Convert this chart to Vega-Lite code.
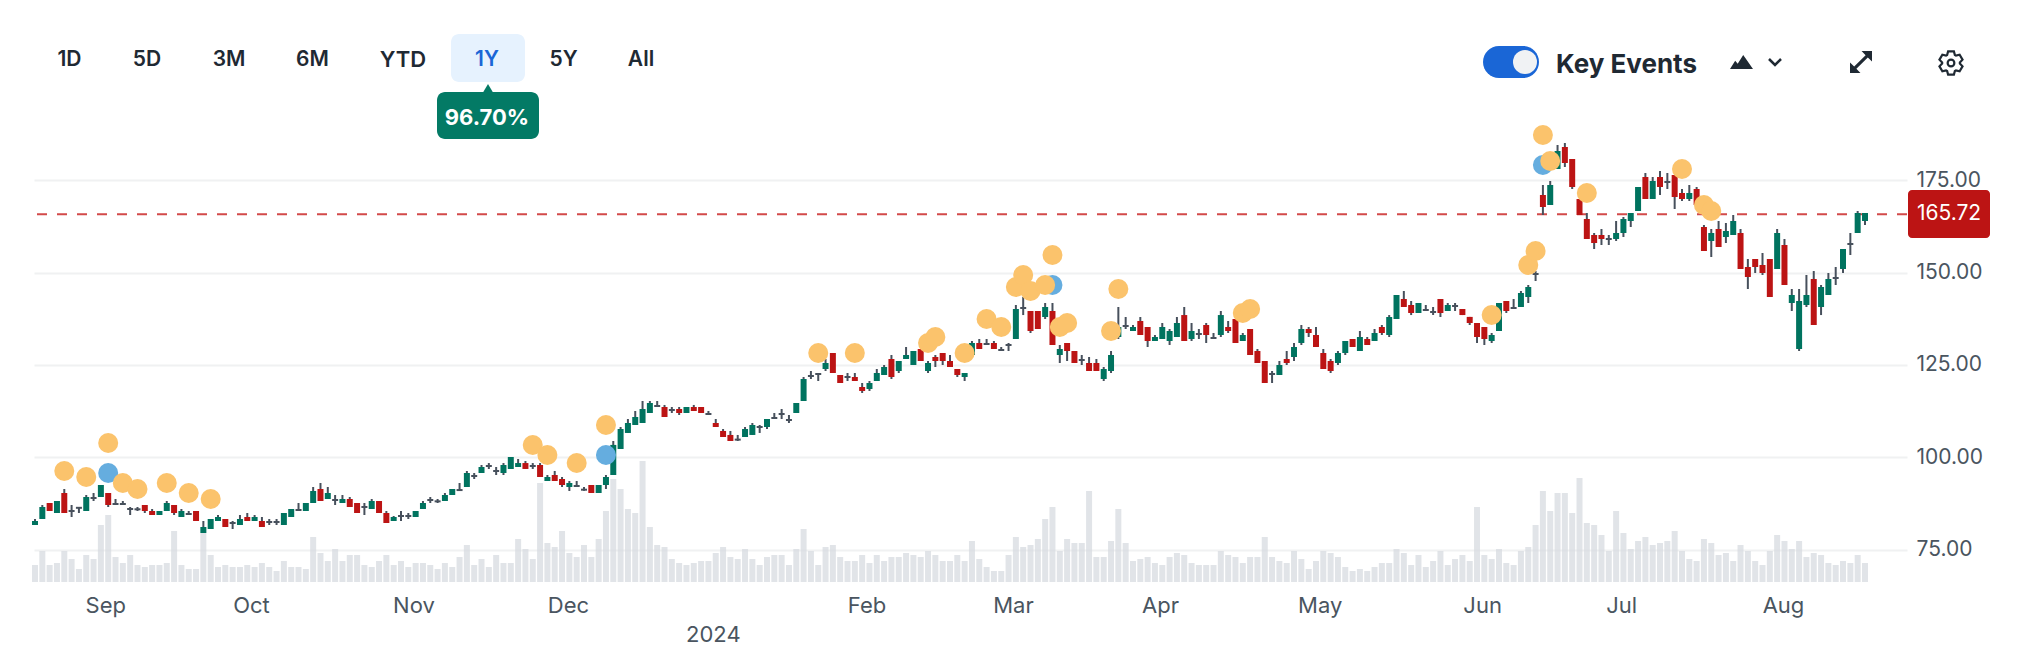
{"$schema":"https://vega.github.io/schema/vega-lite/v6.json","width":1873,"height":582,"padding":{"left":34,"top":0,"right":115,"bottom":74},"autosize":{"type":"none"},"background":"white","config":{"view":{"stroke":null},"text":{"font":"Inter"}},
"datasets":{
"candles":[
{"i":0,"o":81.76,"h":83.38,"l":81.76,"c":82.84,"v":8.5,"k":"up"},
{"i":1,"o":83.38,"h":87.16,"l":83.38,"c":86.62,"v":15.5,"k":"up"},
{"i":2,"o":87.7,"h":87.7,"l":85.54,"c":85.54,"v":8.5,"k":"down"},
{"i":3,"o":85,"h":88.24,"l":85,"c":88.24,"v":9.5,"k":"up"},
{"i":4,"o":90.4,"h":91.49,"l":85,"c":85,"v":15.5,"k":"down"},
{"i":5,"o":85.54,"h":87.16,"l":83.92,"c":85.54,"v":11.5,"k":"flat"},
{"i":6,"o":86.4,"h":86.62,"l":85,"c":86.4,"v":6.5,"k":"flat"},
{"i":7,"o":85.54,"h":89.86,"l":85.54,"c":89.32,"v":13.5,"k":"up"},
{"i":8,"o":89.05,"h":90.4,"l":88.24,"c":89.05,"v":11.5,"k":"flat"},
{"i":9,"o":89.32,"h":92.57,"l":89.32,"c":92.57,"v":28.5,"k":"up"},
{"i":10,"o":90.4,"h":90.4,"l":86.62,"c":87.16,"v":33.5,"k":"down"},
{"i":11,"o":87.43,"h":88.78,"l":87.16,"c":87.43,"v":12.5,"k":"flat"},
{"i":12,"o":87.43,"h":88.24,"l":87.16,"c":87.43,"v":9.5,"k":"flat"},
{"i":13,"o":86.08,"h":86.62,"l":84.46,"c":86.08,"v":13.5,"k":"flat"},
{"i":14,"o":86,"h":86.62,"l":85.54,"c":86,"v":8.5,"k":"flat"},
{"i":15,"o":87.16,"h":87.16,"l":85,"c":85.54,"v":7.5,"k":"down"},
{"i":16,"o":85.54,"h":86.08,"l":84.46,"c":84.46,"v":8.5,"k":"down"},
{"i":17,"o":84.46,"h":85.54,"l":84.46,"c":85.54,"v":8.5,"k":"up"},
{"i":18,"o":85.54,"h":88.24,"l":85.54,"c":87.7,"v":9.5,"k":"up"},
{"i":19,"o":87.16,"h":87.16,"l":84.46,"c":85,"v":25.5,"k":"down"},
{"i":20,"o":83.92,"h":86.08,"l":83.92,"c":85.54,"v":8.5,"k":"up"},
{"i":21,"o":84.73,"h":85.54,"l":84.46,"c":84.73,"v":6.5,"k":"flat"},
{"i":22,"o":85.54,"h":85.54,"l":82.84,"c":82.84,"v":6.5,"k":"down"},
{"i":23,"o":79.59,"h":82.84,"l":79.59,"c":81.22,"v":24.5,"k":"up"},
{"i":24,"o":80.67,"h":83.38,"l":80.67,"c":83.38,"v":13.5,"k":"up"},
{"i":25,"o":82.84,"h":84.46,"l":82.84,"c":83.92,"v":7.5,"k":"up"},
{"i":26,"o":83.38,"h":83.38,"l":81.22,"c":81.22,"v":8.5,"k":"down"},
{"i":27,"o":82.3,"h":82.84,"l":80.67,"c":82.3,"v":7.5,"k":"flat"},
{"i":28,"o":81.76,"h":84.46,"l":81.76,"c":83.38,"v":7.5,"k":"up"},
{"i":29,"o":83.92,"h":85,"l":82.84,"c":82.84,"v":8.5,"k":"down"},
{"i":30,"o":82.84,"h":84.46,"l":82.84,"c":83.92,"v":7.5,"k":"up"},
{"i":31,"o":82.84,"h":83.92,"l":81.22,"c":81.22,"v":9.5,"k":"down"},
{"i":32,"o":82.57,"h":83.38,"l":81.76,"c":82.57,"v":7.5,"k":"flat"},
{"i":33,"o":82.57,"h":83.38,"l":81.76,"c":82.57,"v":5.5,"k":"flat"},
{"i":34,"o":81.76,"h":85,"l":81.76,"c":85,"v":10.5,"k":"up"},
{"i":35,"o":83.92,"h":86.08,"l":83.92,"c":86.08,"v":7.5,"k":"up"},
{"i":36,"o":85.81,"h":87.7,"l":85.54,"c":85.81,"v":7.5,"k":"flat"},
{"i":37,"o":85.54,"h":87.7,"l":85.54,"c":87.7,"v":6.5,"k":"up"},
{"i":38,"o":87.7,"h":92.03,"l":87.7,"c":90.94,"v":22.5,"k":"up"},
{"i":39,"o":91.49,"h":93.11,"l":88.24,"c":88.24,"v":14.5,"k":"down"},
{"i":40,"o":88.78,"h":92.03,"l":88.78,"c":90.4,"v":10.5,"k":"up"},
{"i":41,"o":88.51,"h":89.86,"l":87.16,"c":88.51,"v":16.5,"k":"flat"},
{"i":42,"o":87.7,"h":89.86,"l":87.7,"c":88.78,"v":10.5,"k":"up"},
{"i":43,"o":88.78,"h":89.32,"l":86.62,"c":86.62,"v":13.5,"k":"down"},
{"i":44,"o":87.7,"h":87.7,"l":85,"c":85,"v":13.5,"k":"down"},
{"i":45,"o":86.62,"h":87.7,"l":84.46,"c":86.62,"v":8.5,"k":"flat"},
{"i":46,"o":86.08,"h":88.78,"l":86.08,"c":88.24,"v":7.5,"k":"up"},
{"i":47,"o":88.24,"h":88.24,"l":85,"c":85,"v":10.5,"k":"down"},
{"i":48,"o":85,"h":85.54,"l":82.3,"c":82.3,"v":13.5,"k":"down"},
{"i":49,"o":82.84,"h":84.19,"l":82.84,"c":83.92,"v":8.5,"k":"up"},
{"i":50,"o":84.19,"h":85.54,"l":82.84,"c":84.19,"v":10.5,"k":"flat"},
{"i":51,"o":84.19,"h":85,"l":83.38,"c":84.19,"v":7.5,"k":"flat"},
{"i":52,"o":83.92,"h":85.54,"l":83.92,"c":85.54,"v":9.5,"k":"up"},
{"i":53,"o":86.08,"h":88.24,"l":86.08,"c":87.7,"v":9.5,"k":"up"},
{"i":54,"o":88.51,"h":89.32,"l":87.7,"c":88.51,"v":8.5,"k":"flat"},
{"i":55,"o":88.15,"h":88.78,"l":87.7,"c":88.15,"v":6.5,"k":"flat"},
{"i":56,"o":88.24,"h":90.4,"l":88.24,"c":89.86,"v":9.5,"k":"up"},
{"i":57,"o":89.86,"h":91.49,"l":89.86,"c":91.49,"v":7.5,"k":"up"},
{"i":58,"o":91.2,"h":93.11,"l":91,"c":91.2,"v":12.5,"k":"flat"},
{"i":59,"o":92.03,"h":96.35,"l":92.03,"c":95.81,"v":18.5,"k":"up"},
{"i":60,"o":95,"h":95.81,"l":94.19,"c":95,"v":8.5,"k":"flat"},
{"i":61,"o":95.81,"h":97.97,"l":95.81,"c":97.43,"v":11.5,"k":"up"},
{"i":62,"o":97.7,"h":98.5,"l":96.89,"c":97.7,"v":7.5,"k":"flat"},
{"i":63,"o":96.35,"h":97.43,"l":95.27,"c":96.35,"v":13.5,"k":"flat"},
{"i":64,"o":95.81,"h":98.5,"l":95.27,"c":97.97,"v":9.5,"k":"up"},
{"i":65,"o":96.89,"h":100.13,"l":96.89,"c":100.13,"v":9.5,"k":"up"},
{"i":66,"o":97.43,"h":99.6,"l":97.43,"c":98.5,"v":21.5,"k":"up"},
{"i":67,"o":98.5,"h":99.06,"l":96.9,"c":96.9,"v":16.5,"k":"down"},
{"i":68,"o":97.7,"h":98.5,"l":96.9,"c":97.7,"v":11.5,"k":"flat"},
{"i":69,"o":97.97,"h":98.5,"l":94.73,"c":94.73,"v":49.5,"k":"down"},
{"i":70,"o":93.65,"h":95.27,"l":93.65,"c":94.73,"v":19.5,"k":"up"},
{"i":71,"o":95.27,"h":96.36,"l":93.65,"c":93.65,"v":17.5,"k":"down"},
{"i":72,"o":94.19,"h":94.73,"l":92.03,"c":92.57,"v":25.5,"k":"down"},
{"i":73,"o":92.03,"h":93.65,"l":90.95,"c":93.11,"v":14.5,"k":"up"},
{"i":74,"o":92.3,"h":93.65,"l":92.03,"c":92.3,"v":12.5,"k":"flat"},
{"i":75,"o":91.3,"h":92.03,"l":91,"c":91.3,"v":18.5,"k":"flat"},
{"i":76,"o":92.57,"h":92.57,"l":90.41,"c":90.41,"v":12.5,"k":"down"},
{"i":77,"o":90.41,"h":92.57,"l":90.41,"c":92.57,"v":21.5,"k":"up"},
{"i":78,"o":92.57,"h":95.27,"l":91.49,"c":94.73,"v":35.5,"k":"up"},
{"i":79,"o":95.27,"h":104.46,"l":95.27,"c":103.4,"v":51.5,"k":"up"},
{"i":80,"o":102.3,"h":108.25,"l":102.3,"c":107.7,"v":46.5,"k":"up"},
{"i":81,"o":106.63,"h":110.4,"l":106.63,"c":109.33,"v":36.5,"k":"up"},
{"i":82,"o":108.79,"h":112.57,"l":108.79,"c":110.95,"v":34.5,"k":"up"},
{"i":83,"o":109.33,"h":115.27,"l":109.33,"c":113.11,"v":60.5,"k":"up"},
{"i":84,"o":112.03,"h":115.27,"l":112.03,"c":114.73,"v":27.5,"k":"up"},
{"i":85,"o":113.92,"h":115.27,"l":113.65,"c":113.92,"v":18.5,"k":"flat"},
{"i":86,"o":113.65,"h":114.2,"l":110.95,"c":110.95,"v":17.5,"k":"down"},
{"i":87,"o":112.84,"h":113.65,"l":112.03,"c":112.84,"v":11.5,"k":"flat"},
{"i":88,"o":113.11,"h":113.65,"l":111.49,"c":112.03,"v":9.5,"k":"down"},
{"i":89,"o":112.03,"h":113.65,"l":112.03,"c":113.65,"v":8.5,"k":"up"},
{"i":90,"o":113.65,"h":114.2,"l":112.57,"c":112.57,"v":9.5,"k":"down"},
{"i":91,"o":113.65,"h":113.65,"l":112.03,"c":112.03,"v":10.5,"k":"down"},
{"i":92,"o":111.76,"h":112.57,"l":111.49,"c":111.76,"v":10.5,"k":"flat"},
{"i":93,"o":109.33,"h":110.41,"l":108.25,"c":108.25,"v":14.5,"k":"down"},
{"i":94,"o":107.17,"h":107.7,"l":105.54,"c":105.54,"v":17.5,"k":"down"},
{"i":95,"o":106.09,"h":107.17,"l":104.46,"c":104.46,"v":12.5,"k":"down"},
{"i":96,"o":104.83,"h":106.09,"l":104.46,"c":104.83,"v":11.5,"k":"flat"},
{"i":97,"o":105.54,"h":108.25,"l":105.54,"c":107.7,"v":16.5,"k":"up"},
{"i":98,"o":106.09,"h":109.33,"l":106.09,"c":108.79,"v":11.5,"k":"up"},
{"i":99,"o":108.25,"h":108.79,"l":106.63,"c":108.25,"v":8.5,"k":"flat"},
{"i":100,"o":108.25,"h":110.41,"l":107.7,"c":110.41,"v":12.5,"k":"up"},
{"i":101,"o":110.68,"h":112.03,"l":110.41,"c":110.68,"v":13.5,"k":"flat"},
{"i":102,"o":111.76,"h":113.11,"l":110.41,"c":111.76,"v":13.5,"k":"flat"},
{"i":103,"o":110.14,"h":111.49,"l":109.33,"c":110.14,"v":8.5,"k":"flat"},
{"i":104,"o":112.03,"h":114.73,"l":112.03,"c":114.73,"v":16.5,"k":"up"},
{"i":105,"o":115.27,"h":121.76,"l":115.27,"c":121.22,"v":26.5,"k":"up"},
{"i":106,"o":122.03,"h":123.38,"l":121.22,"c":122.03,"v":15.5,"k":"flat"},
{"i":107,"o":122.57,"h":122.84,"l":120.68,"c":122.57,"v":8.5,"k":"flat"},
{"i":108,"o":123.92,"h":126.62,"l":123.38,"c":125.54,"v":17.5,"k":"up"},
{"i":109,"o":128.25,"h":128.25,"l":122.84,"c":122.84,"v":18.5,"k":"down"},
{"i":110,"o":122.3,"h":122.3,"l":120.14,"c":120.14,"v":12.5,"k":"down"},
{"i":111,"o":121.76,"h":122.84,"l":120.68,"c":121.76,"v":10.5,"k":"flat"},
{"i":112,"o":121.76,"h":122.84,"l":120.68,"c":120.68,"v":10.5,"k":"down"},
{"i":113,"o":119.06,"h":120.14,"l":117.44,"c":117.98,"v":13.5,"k":"down"},
{"i":114,"o":118.52,"h":120.68,"l":117.98,"c":120.14,"v":9.5,"k":"up"},
{"i":115,"o":120.68,"h":123.92,"l":120.68,"c":122.84,"v":13.5,"k":"up"},
{"i":116,"o":122.3,"h":125,"l":122.3,"c":124.46,"v":10.5,"k":"up"},
{"i":117,"o":126.62,"h":127.7,"l":121.22,"c":121.76,"v":12.5,"k":"down"},
{"i":118,"o":123.38,"h":126.08,"l":122.84,"c":126.08,"v":12.5,"k":"up"},
{"i":119,"o":126.62,"h":129.87,"l":126.62,"c":127.7,"v":14.5,"k":"up"},
{"i":120,"o":125,"h":128.79,"l":125,"c":128.79,"v":13.5,"k":"up"},
{"i":121,"o":129.33,"h":129.33,"l":126.08,"c":126.08,"v":12.5,"k":"down"},
{"i":122,"o":123.38,"h":126.08,"l":122.84,"c":125.54,"v":15.5,"k":"up"},
{"i":123,"o":127.17,"h":127.7,"l":124.46,"c":126.08,"v":13.5,"k":"down"},
{"i":124,"o":128.25,"h":128.25,"l":125,"c":126.08,"v":10.5,"k":"down"},
{"i":125,"o":126.08,"h":127.7,"l":124.46,"c":124.46,"v":10.5,"k":"down"},
{"i":126,"o":123.92,"h":123.92,"l":121.76,"c":122.3,"v":13.5,"k":"down"},
{"i":127,"o":121.76,"h":122.84,"l":120.68,"c":122.84,"v":10.5,"k":"up"},
{"i":128,"o":127.71,"h":131.49,"l":127.71,"c":130.95,"v":20.5,"k":"up"},
{"i":129,"o":130.95,"h":132.03,"l":129.33,"c":129.33,"v":11.5,"k":"down"},
{"i":130,"o":130.68,"h":132.03,"l":130.41,"c":130.68,"v":7.5,"k":"flat"},
{"i":131,"o":130.95,"h":131.49,"l":129.33,"c":129.33,"v":5.5,"k":"down"},
{"i":132,"o":129.05,"h":129.87,"l":129,"c":129.05,"v":5.5,"k":"flat"},
{"i":133,"o":130.4,"h":130.95,"l":128.78,"c":130.4,"v":13.5,"k":"flat"},
{"i":134,"o":132.03,"h":141.22,"l":132.03,"c":140.14,"v":22.5,"k":"up"},
{"i":135,"o":140.41,"h":143.38,"l":138.5,"c":140.41,"v":17.5,"k":"flat"},
{"i":136,"o":139.6,"h":139.6,"l":133.65,"c":134.19,"v":18.5,"k":"down"},
{"i":137,"o":139.6,"h":139.6,"l":134.73,"c":134.73,"v":21.5,"k":"down"},
{"i":138,"o":137.97,"h":141.76,"l":137.43,"c":140.68,"v":31.5,"k":"up"},
{"i":139,"o":139.6,"h":141.76,"l":130.41,"c":130.41,"v":37.5,"k":"down"},
{"i":140,"o":127.7,"h":130.41,"l":125.54,"c":129.33,"v":15.5,"k":"up"},
{"i":141,"o":130.95,"h":130.95,"l":126.08,"c":128.78,"v":21.5,"k":"down"},
{"i":142,"o":128.78,"h":128.78,"l":125.54,"c":125.54,"v":19.5,"k":"down"},
{"i":143,"o":126.35,"h":127.7,"l":125,"c":126.35,"v":19.5,"k":"flat"},
{"i":144,"o":125.54,"h":127.16,"l":123.38,"c":123.38,"v":45.5,"k":"down"},
{"i":145,"o":125.54,"h":126.62,"l":123.38,"c":123.38,"v":12.5,"k":"down"},
{"i":146,"o":121.22,"h":124.46,"l":120.68,"c":123.92,"v":12.5,"k":"up"},
{"i":147,"o":123.38,"h":128.78,"l":122.84,"c":127.7,"v":20.5,"k":"up"},
{"i":148,"o":132.57,"h":140.68,"l":132.03,"c":135.27,"v":36.5,"k":"up"},
{"i":149,"o":135.54,"h":137.97,"l":134.73,"c":135.54,"v":19.5,"k":"flat"},
{"i":150,"o":134.19,"h":135.81,"l":134.19,"c":135.27,"v":10.5,"k":"up"},
{"i":151,"o":136.89,"h":137.97,"l":133.11,"c":133.11,"v":11.5,"k":"down"},
{"i":152,"o":135.27,"h":135.27,"l":129.87,"c":131.49,"v":12.5,"k":"down"},
{"i":153,"o":131.49,"h":133.11,"l":131.49,"c":132.57,"v":9.5,"k":"up"},
{"i":154,"o":132.03,"h":136.35,"l":132.03,"c":135.27,"v":8.5,"k":"up"},
{"i":155,"o":131.49,"h":134.73,"l":130.41,"c":134.19,"v":12.5,"k":"up"},
{"i":156,"o":132.57,"h":137.97,"l":132.57,"c":136.35,"v":14.5,"k":"up"},
{"i":157,"o":138.5,"h":140.68,"l":131.49,"c":131.49,"v":13.5,"k":"down"},
{"i":158,"o":132.03,"h":136.35,"l":131.49,"c":134.19,"v":9.5,"k":"up"},
{"i":159,"o":133.38,"h":134.73,"l":132.03,"c":133.38,"v":8.5,"k":"flat"},
{"i":160,"o":135.81,"h":136.35,"l":130.95,"c":133.11,"v":8.5,"k":"down"},
{"i":161,"o":132.3,"h":133.65,"l":132.03,"c":132.3,"v":8.5,"k":"flat"},
{"i":162,"o":133.11,"h":139.6,"l":132.57,"c":138.5,"v":15.5,"k":"up"},
{"i":163,"o":135.27,"h":136.89,"l":133.65,"c":134.19,"v":13.5,"k":"down"},
{"i":164,"o":137.43,"h":137.43,"l":130.95,"c":130.95,"v":12.5,"k":"down"},
{"i":165,"o":131.49,"h":133.65,"l":131.49,"c":133.11,"v":9.5,"k":"up"},
{"i":166,"o":134.73,"h":134.73,"l":127.7,"c":127.7,"v":12.5,"k":"down"},
{"i":167,"o":128.78,"h":129.33,"l":125.54,"c":125.54,"v":12.5,"k":"down"},
{"i":168,"o":126.08,"h":126.08,"l":120.14,"c":120.14,"v":22.5,"k":"down"},
{"i":169,"o":122.57,"h":123.38,"l":120.14,"c":122.57,"v":12.5,"k":"flat"},
{"i":170,"o":122.3,"h":126.08,"l":122.3,"c":125,"v":10.5,"k":"up"},
{"i":171,"o":126.62,"h":128.78,"l":125,"c":125.54,"v":9.5,"k":"down"},
{"i":172,"o":127.16,"h":130.95,"l":126.08,"c":129.87,"v":15.5,"k":"up"},
{"i":173,"o":130.95,"h":135.81,"l":130.41,"c":134.73,"v":11.5,"k":"up"},
{"i":174,"o":134.73,"h":135.27,"l":132.57,"c":133.65,"v":6.5,"k":"down"},
{"i":175,"o":133.11,"h":135.27,"l":129.87,"c":129.87,"v":10.5,"k":"down"},
{"i":176,"o":128.24,"h":129.33,"l":123.92,"c":123.92,"v":15.5,"k":"down"},
{"i":177,"o":126.08,"h":126.62,"l":122.84,"c":123.38,"v":14.5,"k":"down"},
{"i":178,"o":125.54,"h":128.78,"l":125,"c":128.24,"v":12.5,"k":"up"},
{"i":179,"o":128.24,"h":131.49,"l":127.7,"c":131.49,"v":7.5,"k":"up"},
{"i":180,"o":132.03,"h":132.03,"l":129.87,"c":129.87,"v":5.5,"k":"down"},
{"i":181,"o":128.78,"h":134.19,"l":128.78,"c":132.57,"v":6.5,"k":"up"},
{"i":182,"o":132.03,"h":132.57,"l":130.41,"c":130.41,"v":5.5,"k":"down"},
{"i":183,"o":131.49,"h":134.73,"l":131.49,"c":133.65,"v":7.5,"k":"up"},
{"i":184,"o":135.27,"h":135.81,"l":133.11,"c":133.65,"v":9.5,"k":"down"},
{"i":185,"o":133.11,"h":138.5,"l":132.57,"c":137.97,"v":9.5,"k":"up"},
{"i":186,"o":137.43,"h":143.92,"l":137.43,"c":143.92,"v":16.5,"k":"up"},
{"i":187,"o":142.84,"h":145,"l":140.68,"c":140.68,"v":14.5,"k":"down"},
{"i":188,"o":141.22,"h":142.3,"l":138.5,"c":139.06,"v":8.5,"k":"down"},
{"i":189,"o":139.06,"h":141.76,"l":139.06,"c":141.76,"v":13.5,"k":"up"},
{"i":190,"o":139.87,"h":141.22,"l":139.6,"c":139.87,"v":7.5,"k":"flat"},
{"i":191,"o":139.32,"h":140.68,"l":138.52,"c":139.32,"v":10.5,"k":"flat"},
{"i":192,"o":142.84,"h":142.84,"l":137.97,"c":139.06,"v":15.5,"k":"down"},
{"i":193,"o":139.6,"h":141.76,"l":139.6,"c":141.22,"v":8.5,"k":"up"},
{"i":194,"o":140.95,"h":141.76,"l":139.6,"c":140.95,"v":11.5,"k":"flat"},
{"i":195,"o":140.14,"h":140.14,"l":138.5,"c":138.5,"v":13.5,"k":"down"},
{"i":196,"o":138,"h":138,"l":135.81,"c":136.35,"v":10.5,"k":"down"},
{"i":197,"o":136.35,"h":136.35,"l":130.95,"c":132.57,"v":37.5,"k":"down"},
{"i":198,"o":135.27,"h":135.27,"l":130.41,"c":132.03,"v":13.5,"k":"down"},
{"i":199,"o":131.49,"h":133.65,"l":130.95,"c":133.11,"v":11.5,"k":"up"},
{"i":200,"o":134.19,"h":141.76,"l":134.19,"c":141.76,"v":16.5,"k":"up"},
{"i":201,"o":142.3,"h":142.3,"l":139.06,"c":139.6,"v":9.5,"k":"down"},
{"i":202,"o":140.41,"h":142.84,"l":140.14,"c":140.41,"v":8.5,"k":"flat"},
{"i":203,"o":140.68,"h":145,"l":140.68,"c":144.46,"v":15.5,"k":"up"},
{"i":204,"o":143.38,"h":146.62,"l":141.76,"c":146.08,"v":17.5,"k":"up"},
{"i":205,"o":149.6,"h":150.4,"l":147.7,"c":149.6,"v":28.5,"k":"flat"},
{"i":206,"o":170.95,"h":173.65,"l":165.54,"c":167.7,"v":45.5,"k":"down"},
{"i":207,"o":168.25,"h":174.73,"l":168.25,"c":173.65,"v":35.5,"k":"up"},
{"i":208,"o":177.97,"h":184.46,"l":177.97,"c":182.84,"v":44.5,"k":"up"},
{"i":209,"o":183.92,"h":185,"l":178.52,"c":179.6,"v":44.5,"k":"down"},
{"i":210,"o":180.68,"h":180.68,"l":172.57,"c":173.11,"v":34.5,"k":"down"},
{"i":211,"o":169.87,"h":169.87,"l":165.54,"c":165.54,"v":52,"k":"down"},
{"i":212,"o":164.46,"h":166.08,"l":159.06,"c":159.06,"v":29.5,"k":"down"},
{"i":213,"o":160.14,"h":160.68,"l":156.35,"c":157.97,"v":28.5,"k":"down"},
{"i":214,"o":160.14,"h":161.76,"l":157.43,"c":159.06,"v":23.5,"k":"down"},
{"i":215,"o":159.06,"h":160.14,"l":157.43,"c":159.06,"v":15.5,"k":"flat"},
{"i":216,"o":159.06,"h":163.92,"l":158.52,"c":160.68,"v":35.5,"k":"up"},
{"i":217,"o":160.68,"h":165,"l":159.6,"c":164.46,"v":24.5,"k":"up"},
{"i":218,"o":163.92,"h":166.08,"l":162.3,"c":166.08,"v":16.5,"k":"up"},
{"i":219,"o":166.62,"h":173.11,"l":166.62,"c":173.11,"v":20.5,"k":"up"},
{"i":220,"o":175.81,"h":176.89,"l":169.87,"c":169.87,"v":22.5,"k":"down"},
{"i":221,"o":169.87,"h":175.81,"l":169.87,"c":174.73,"v":18.5,"k":"up"},
{"i":222,"o":175.81,"h":177.43,"l":170.95,"c":173.11,"v":19.5,"k":"down"},
{"i":223,"o":174.46,"h":176.89,"l":172.57,"c":174.46,"v":20.5,"k":"flat"},
{"i":224,"o":176.35,"h":176.35,"l":167.16,"c":170.41,"v":25.5,"k":"down"},
{"i":225,"o":171.49,"h":172.57,"l":169.33,"c":169.87,"v":15.5,"k":"down"},
{"i":226,"o":169.87,"h":173.65,"l":169.33,"c":171.49,"v":11.5,"k":"up"},
{"i":227,"o":172.57,"h":173.11,"l":168.25,"c":168.25,"v":10.5,"k":"down"},
{"i":228,"o":162.3,"h":162.84,"l":155.81,"c":155.81,"v":21.5,"k":"down"},
{"i":229,"o":158.52,"h":161.76,"l":154.19,"c":160.68,"v":19.5,"k":"up"},
{"i":230,"o":161.76,"h":163.92,"l":156.89,"c":156.89,"v":13.5,"k":"down"},
{"i":231,"o":159.6,"h":163.38,"l":157.97,"c":161.22,"v":14.5,"k":"up"},
{"i":232,"o":160.14,"h":165.54,"l":160.14,"c":163.92,"v":10.5,"k":"up"},
{"i":233,"o":160.68,"h":161.76,"l":150.95,"c":150.95,"v":18.5,"k":"down"},
{"i":234,"o":151.49,"h":153.65,"l":145.54,"c":148.78,"v":15.5,"k":"down"},
{"i":235,"o":153.65,"h":153.65,"l":149.87,"c":151.49,"v":10.5,"k":"down"},
{"i":236,"o":152.03,"h":155.27,"l":149.33,"c":149.87,"v":8.5,"k":"down"},
{"i":237,"o":153.65,"h":153.65,"l":143.38,"c":143.38,"v":15.5,"k":"down"},
{"i":238,"o":150.95,"h":161.76,"l":150.95,"c":160.68,"v":23.5,"k":"up"},
{"i":239,"o":157.43,"h":159.06,"l":146.62,"c":146.62,"v":20.5,"k":"down"},
{"i":240,"o":141.76,"h":145.54,"l":139.6,"c":143.92,"v":16.5,"k":"up"},
{"i":241,"o":129.33,"h":145.54,"l":128.78,"c":142.3,"v":20.5,"k":"up"},
{"i":242,"o":141.22,"h":149.33,"l":140.68,"c":143.92,"v":12.5,"k":"up"},
{"i":243,"o":148.24,"h":150.4,"l":135.81,"c":135.81,"v":14.5,"k":"down"},
{"i":244,"o":140.68,"h":146.62,"l":138.5,"c":146.08,"v":13.5,"k":"up"},
{"i":245,"o":143.92,"h":149.87,"l":143.92,"c":148.24,"v":9.5,"k":"up"},
{"i":246,"o":148.52,"h":151.49,"l":146.62,"c":148.52,"v":8.5,"k":"flat"},
{"i":247,"o":150.95,"h":156.35,"l":149.87,"c":156.35,"v":10.5,"k":"up"},
{"i":248,"o":157.71,"h":160.68,"l":154.73,"c":157.71,"v":9.5,"k":"flat"},
{"i":249,"o":160.68,"h":166.62,"l":160.68,"c":166.08,"v":13.5,"k":"up"},
{"i":250,"o":163.92,"h":166.08,"l":162.84,"c":166.08,"v":9.5,"k":"up"}
],
"events":[
{"i":10,"p":95.81,"t":"earnings"},{"i":78,"p":100.68,"t":"earnings"},{"i":139,"p":146.62,"t":"earnings"},{"i":206,"p":179.06,"t":"earnings"},
{"i":4,"p":96.35,"t":"news"},{"i":7,"p":94.73,"t":"news"},{"i":10,"p":103.92,"t":"news"},{"i":12,"p":93.1,"t":"news"},{"i":14,"p":91.49,"t":"news"},{"i":18,"p":93.1,"t":"news"},{"i":21,"p":90.4,"t":"news"},{"i":24,"p":88.78,"t":"news"},
{"i":68,"p":103.38,"t":"news"},{"i":70,"p":100.68,"t":"news"},{"i":74,"p":98.5,"t":"news"},{"i":78,"p":108.79,"t":"news"},
{"i":107,"p":128.25,"t":"news"},{"i":112,"p":128.25,"t":"news"},{"i":122,"p":130.95,"t":"news"},{"i":123,"p":132.57,"t":"news"},{"i":127,"p":128.25,"t":"news"},{"i":130,"p":137.43,"t":"news"},
{"i":132,"p":135.27,"t":"news"},{"i":134,"p":146.08,"t":"news"},{"i":135,"p":149.32,"t":"news"},{"i":136,"p":145,"t":"news"},{"i":138,"p":146.62,"t":"news"},{"i":139,"p":154.73,"t":"news"},{"i":140,"p":135.27,"t":"news"},{"i":141,"p":136.35,"t":"news"},
{"i":147,"p":134.19,"t":"news"},{"i":148,"p":145.54,"t":"news"},{"i":165,"p":139.06,"t":"news"},{"i":166,"p":140.14,"t":"news"},
{"i":199,"p":138.52,"t":"news"},{"i":204,"p":152.03,"t":"news"},{"i":205,"p":155.81,"t":"news"},{"i":206,"p":187.17,"t":"news"},{"i":207,"p":180.14,"t":"news"},{"i":212,"p":171.49,"t":"news"},{"i":225,"p":177.97,"t":"news"},{"i":228,"p":168.25,"t":"news"},{"i":229,"p":166.62,"t":"news"}
],
"last":[{"p":165.72}]
},
"resolve":{"scale":{"y":"independent"}},
"layer":[
{"data":{"name":"candles"},"mark":{"type":"bar","size":6,"orient":"vertical","color":"#d5dadf","opacity":0.72},
"encoding":{"x":{"field":"i","type":"quantitative","scale":{"domain":[-0.137,255.74],"nice":false,"zero":false,"padding":0},"title":null,
"axis":{"values":[9.6,29.5,51.7,72.8,92.6,113.6,133.6,153.7,175.5,197.7,216.7,238.8],"labelExpr":"[ 'Sep','Oct','Nov','Dec',['','2024'],'Feb','Mar','Apr','May','Jun','Jul','Aug' ][indexof([9.6,29.5,51.7,72.8,92.6,113.6,133.6,153.7,175.5,197.7,216.7,238.8],datum.value)]","domain":false,"ticks":false,"grid":false,"labelFont":"Inter","labelFontSize":22,"labelColor":"#4a5560","labelPadding":13,"labelOverlap":false,"labelLineHeight":29,"labelFlush":false}},
"y":{"field":"v","type":"quantitative","scale":{"domain":[0,291],"nice":false},"axis":null}}},
{"layer":[
{"data":{"name":"last"},"mark":{"type":"rule","color":"#d24a4a","strokeWidth":2,"strokeDash":[10,10]},
"encoding":{"y":{"field":"p","type":"quantitative","scale":{"domain":[66.35,223.65],"nice":false,"zero":false},"title":null,
"axis":{"orient":"right","values":[75,100,125,150,175],"format":".2f","grid":true,"gridColor":"#f0f1f2","gridWidth":2,"domain":false,"ticks":false,"labelFont":"Inter","labelFontSize":21,"labelColor":"#4a5560","labelPadding":9}}}},
{"data":{"name":"candles"},"mark":{"type":"rule","color":"#47505c","strokeWidth":2},
"encoding":{"x":{"field":"i","type":"quantitative"},"y":{"field":"l","type":"quantitative"},"y2":{"field":"h"}}},
{"data":{"name":"candles"},"transform":[{"filter":"datum.k!='flat'"}],"mark":{"type":"bar","size":6,"orient":"vertical"},
"encoding":{"x":{"field":"i","type":"quantitative"},"y":{"field":"o","type":"quantitative"},"y2":{"field":"c"},"color":{"field":"k","type":"nominal","scale":{"domain":["up","down"],"range":["#00735f","#bc1414"]},"legend":null}}},
{"data":{"name":"candles"},"transform":[{"filter":"datum.k=='flat'"}],"mark":{"type":"tick","orient":"horizontal","size":6,"thickness":2,"color":"#47505c","opacity":1},
"encoding":{"x":{"field":"i","type":"quantitative"},"y":{"field":"o","type":"quantitative"}}},
{"data":{"name":"events"},"transform":[{"filter":"datum.t=='earnings'"}],"mark":{"type":"point","filled":true,"size":400,"color":"#65addf","opacity":1},
"encoding":{"x":{"field":"i","type":"quantitative"},"y":{"field":"p","type":"quantitative"}}},
{"data":{"name":"events"},"transform":[{"filter":"datum.t=='news'"}],"mark":{"type":"point","filled":true,"size":400,"color":"#fbc36c","opacity":1},
"encoding":{"x":{"field":"i","type":"quantitative"},"y":{"field":"p","type":"quantitative"}}},
{"data":{"name":"last"},"mark":{"type":"rect","x":1874,"x2":1956,"y":190,"y2":238,"cornerRadius":4,"color":"#bc1414"}},
{"data":{"name":"last"},"mark":{"type":"text","x":1915,"color":"white","fontSize":21,"font":"Inter","align":"center","baseline":"middle"},
"encoding":{"y":{"field":"p","type":"quantitative"},"text":{"field":"p","format":".2f"}}}
]},
{"data":{"values":[{}]},"layer":[
{"mark":{"type":"rect","x":417,"x2":491,"y":34,"y2":82,"cornerRadius":8,"color":"#e6f2fe"}},
{"mark":{"type":"text","x":35.5,"y":60,"text":"1D","fontSize":21,"fontWeight":600,"color":"#1f2933"}},
{"mark":{"type":"text","x":113,"y":60,"text":"5D","fontSize":21,"fontWeight":600,"color":"#1f2933"}},
{"mark":{"type":"text","x":195,"y":60,"text":"3M","fontSize":21,"fontWeight":600,"color":"#1f2933"}},
{"mark":{"type":"text","x":278.5,"y":60,"text":"6M","fontSize":21,"fontWeight":600,"color":"#1f2933"}},
{"mark":{"type":"text","x":369,"y":60,"text":"YTD","fontSize":22,"fontWeight":600,"color":"#1f2933"}},
{"mark":{"type":"text","x":453,"y":60,"text":"1Y","fontSize":21,"fontWeight":600,"color":"#1a66d6"}},
{"mark":{"type":"text","x":529.7,"y":60,"text":"5Y","fontSize":21,"fontWeight":600,"color":"#1f2933"}},
{"mark":{"type":"text","x":607,"y":60,"text":"All","fontSize":21,"fontWeight":600,"color":"#1f2933"}},
{"mark":{"type":"point","x":454,"y":88,"shape":"triangle-up","filled":true,"size":90,"color":"#037a65","opacity":1}},
{"mark":{"type":"rect","x":403,"x2":505,"y":92,"y2":139,"cornerRadius":8,"color":"#037a65"}},
{"mark":{"type":"text","x":453,"y":118,"text":"96.70%","fontSize":22,"fontWeight":700,"color":"white"}},
{"mark":{"type":"rect","x":1449,"x2":1505,"y":46,"y2":78,"cornerRadius":16,"color":"#1a66d6"}},
{"mark":{"type":"point","x":1491,"y":62,"shape":"circle","filled":true,"size":576,"color":"#f0f2f4","opacity":1}},
{"mark":{"type":"text","x":1522,"y":65,"text":"Key Events","align":"left","fontSize":26,"fontWeight":700,"color":"#1f2933"}},
{"mark":{"type":"point","x":1707.5,"y":62,"shape":"M-1 0.6 L-0.55 -0.1 L-0.33 0.15 L0.15 -0.6 L1 0.6 Z","filled":true,"size":529,"color":"#1f2933","opacity":1}},
{"mark":{"type":"point","x":1741,"y":62,"shape":"M-1 -0.5 L0 0.5 L1 -0.5","filled":false,"size":144,"stroke":"#1f2933","strokeWidth":2.5,"opacity":1}},
{"mark":{"type":"point","x":1827,"y":62,"shape":"M.05 -1 L1 -1 L1 -.05 L.62 -.42 L-.42 .62 L-.05 1 L-1 1 L-1 .05 L-.62 .42 L.42 -.62 Z","filled":true,"size":484,"color":"#1f2933","opacity":1}},
{"mark":{"type":"point","x":1917,"y":63,"shape":"M.242 -.97 L-.242 -.97 L-.324 -.665 L-.414 -.613 L-.719 -.695 L-.961 -.276 L-.738 -.052 L-.738 .052 L-.961 .276 L-.719 .695 L-.414 .613 L-.324 .665 L-.242 .97 L.242 .97 L.324 .665 L.414 .613 L.719 .695 L.961 .276 L.738 .052 L.738 -.052 L.961 -.276 L.719 -.695 L.414 -.613 L.324 -.665 Z M.28 0 A.28 .28 0 1 0 -.28 0 A.28 .28 0 1 0 .28 0","filled":false,"size":576,"stroke":"#1f2933","strokeWidth":2.2,"opacity":1}}
]}
]}
